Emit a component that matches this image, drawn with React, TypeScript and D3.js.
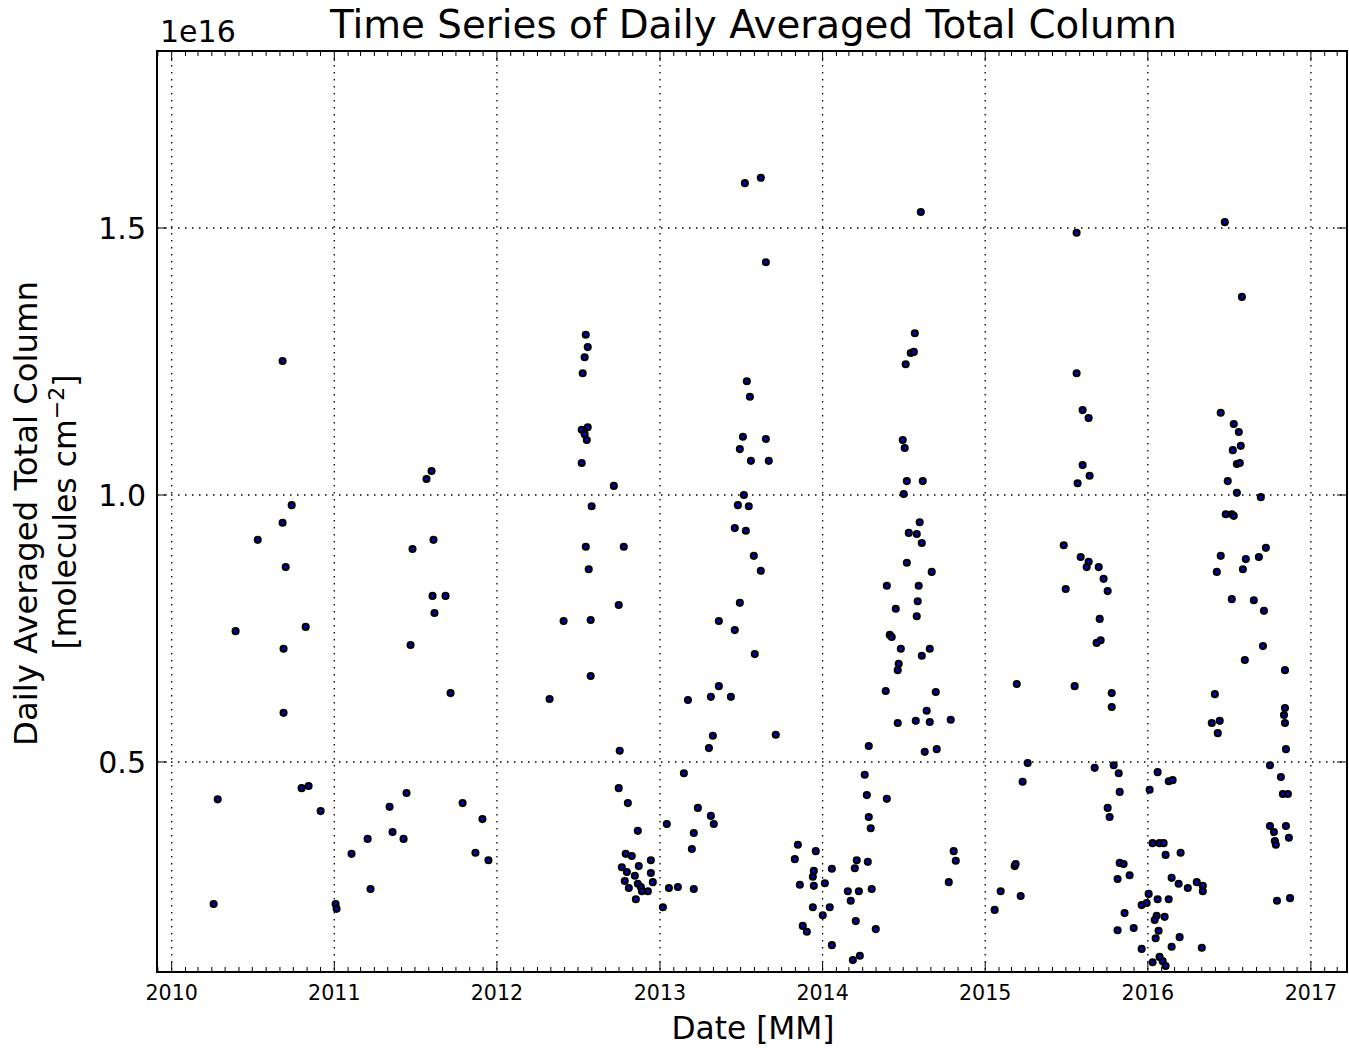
import React, { useEffect } from "react";
import * as d3 from "d3";

// ---- Data: [decimal year, daily averaged total column (x1e16 molecules cm^-2)] ----
const obs2010: [number, number][] = [
  [2010.258, 0.234], [2010.283, 0.430], [2010.393, 0.745], [2010.529, 0.916], [2010.682, 1.251],
  [2010.682, 0.948], [2010.701, 0.865], [2010.688, 0.712], [2010.688, 0.592], [2010.738, 0.981],
  [2010.799, 0.451], [2010.842, 0.455], [2010.824, 0.753], [2010.916, 0.408],
];
const obs2011: [number, number][] = [
  [2011.008, 0.234], [2011.014, 0.225], [2011.106, 0.328], [2011.205, 0.356], [2011.223, 0.262],
  [2011.340, 0.416], [2011.358, 0.369], [2011.426, 0.356], [2011.444, 0.442], [2011.469, 0.719],
  [2011.481, 0.899], [2011.567, 1.030], [2011.598, 1.045], [2011.610, 0.916], [2011.604, 0.811],
  [2011.616, 0.779], [2011.684, 0.811], [2011.715, 0.629], [2011.789, 0.423], [2011.868, 0.330],
  [2011.911, 0.393], [2011.948, 0.316],
];
const obs2012: [number, number][] = [
  [2012.323, 0.618], [2012.409, 0.764], [2012.520, 1.060], [2012.526, 1.228], [2012.538, 1.258],
  [2012.557, 1.277], [2012.545, 1.300], [2012.557, 1.127], [2012.520, 1.122], [2012.538, 1.114],
  [2012.551, 1.103], [2012.717, 1.017], [2012.581, 0.979], [2012.545, 0.903], [2012.778, 0.903],
  [2012.563, 0.861], [2012.747, 0.794], [2012.575, 0.766], [2012.575, 0.661], [2012.753, 0.521],
  [2012.747, 0.451], [2012.803, 0.423], [2012.864, 0.371], [2012.790, 0.328], [2012.827, 0.324],
  [2012.944, 0.316], [2012.766, 0.303], [2012.870, 0.305], [2012.797, 0.294], [2012.846, 0.287],
  [2012.944, 0.292], [2012.784, 0.277], [2012.864, 0.272], [2012.883, 0.266], [2012.889, 0.258],
  [2012.926, 0.258], [2012.956, 0.275], [2012.809, 0.264], [2012.852, 0.243],
];
const obs2013: [number, number][] = [
  [2013.018, 0.228], [2013.042, 0.384], [2013.055, 0.264], [2013.110, 0.266], [2013.208, 0.262],
  [2013.196, 0.337], [2013.208, 0.367], [2013.233, 0.414], [2013.313, 0.399], [2013.331, 0.384],
  [2013.172, 0.616], [2013.147, 0.479], [2013.301, 0.526], [2013.313, 0.622], [2013.325, 0.549],
  [2013.362, 0.642], [2013.362, 0.764], [2013.436, 0.622], [2013.460, 0.747], [2013.460, 0.938],
  [2013.479, 0.981], [2013.491, 0.798], [2013.491, 1.086], [2013.510, 1.109], [2013.522, 1.584],
  [2013.516, 1.000], [2013.528, 0.933], [2013.534, 1.213], [2013.546, 0.979], [2013.553, 1.184],
  [2013.559, 1.064], [2013.577, 0.886], [2013.583, 0.702], [2013.620, 0.858], [2013.620, 1.594],
  [2013.651, 1.436], [2013.651, 1.105], [2013.669, 1.064], [2013.712, 0.551],
  [2013.848, 0.345], [2013.829, 0.318], [2013.958, 0.333], [2013.946, 0.296], [2013.940, 0.285],
  [2013.860, 0.270], [2013.946, 0.268], [2013.940, 0.228], [2013.878, 0.193], [2013.903, 0.182],
];
const obs2014: [number, number][] = [
  [2014.014, 0.273], [2014.057, 0.300], [2014.044, 0.228], [2014.001, 0.213], [2014.057, 0.157],
  [2014.186, 0.129], [2014.210, 0.316], [2014.198, 0.301], [2014.155, 0.258], [2014.173, 0.240],
  [2014.204, 0.202], [2014.223, 0.258], [2014.229, 0.137],
  [2014.259, 0.476], [2014.272, 0.438], [2014.284, 0.530], [2014.284, 0.397], [2014.296, 0.376],
  [2014.278, 0.313], [2014.302, 0.262], [2014.327, 0.187], [2014.388, 0.633], [2014.395, 0.830],
  [2014.395, 0.431], [2014.413, 0.738], [2014.425, 0.734], [2014.450, 0.787], [2014.462, 0.573],
  [2014.462, 0.672], [2014.468, 0.684], [2014.481, 0.712], [2014.493, 1.103], [2014.499, 1.002],
  [2014.505, 1.088], [2014.518, 0.873], [2014.511, 1.245], [2014.518, 1.026], [2014.530, 0.929],
  [2014.542, 1.266], [2014.561, 1.268], [2014.567, 1.303], [2014.573, 0.577], [2014.579, 0.773],
  [2014.585, 0.801], [2014.579, 0.927], [2014.591, 0.830], [2014.597, 0.949], [2014.604, 1.530],
  [2014.610, 0.910], [2014.616, 1.026], [2014.610, 0.699], [2014.628, 0.519], [2014.640, 0.596],
  [2014.659, 0.575], [2014.659, 0.712], [2014.671, 0.856], [2014.696, 0.631], [2014.702, 0.524],
  [2014.788, 0.579], [2014.776, 0.275], [2014.806, 0.333], [2014.819, 0.315],
];
const obs2015: [number, number][] = [
  [2015.058, 0.223], [2015.095, 0.258], [2015.181, 0.305], [2015.187, 0.309], [2015.194, 0.646],
  [2015.218, 0.249], [2015.230, 0.463], [2015.261, 0.498], [2015.483, 0.906], [2015.495, 0.824],
  [2015.550, 0.642], [2015.562, 1.491], [2015.562, 1.228], [2015.568, 1.022], [2015.587, 0.884],
  [2015.599, 1.159], [2015.599, 1.056], [2015.624, 0.865], [2015.636, 0.875], [2015.636, 1.144],
  [2015.642, 1.036], [2015.673, 0.489], [2015.685, 0.723], [2015.698, 0.865], [2015.704, 0.768],
  [2015.710, 0.728], [2015.728, 0.843], [2015.753, 0.820], [2015.753, 0.414], [2015.765, 0.397],
  [2015.778, 0.629], [2015.778, 0.603], [2015.790, 0.494], [2015.814, 0.281], [2015.821, 0.479],
  [2015.827, 0.444], [2015.827, 0.311], [2015.851, 0.309], [2015.814, 0.185], [2015.857, 0.217],
  [2015.888, 0.288], [2015.913, 0.189], [2015.962, 0.232], [2015.993, 0.236], [2015.962, 0.150],
];
const obs2016: [number, number][] = [
  [2016.005, 0.253], [2016.060, 0.243], [2016.128, 0.243], [2016.146, 0.283], [2016.189, 0.272],
  [2016.245, 0.264], [2016.300, 0.275], [2016.337, 0.268], [2016.337, 0.258], [2016.054, 0.212],
  [2016.042, 0.204], [2016.103, 0.210], [2016.066, 0.184], [2016.048, 0.170], [2016.195, 0.172],
  [2016.146, 0.154], [2016.331, 0.152], [2016.072, 0.135], [2016.029, 0.125], [2016.091, 0.127],
  [2016.109, 0.118],
  [2016.011, 0.448], [2016.060, 0.481], [2016.029, 0.348], [2016.072, 0.348], [2016.097, 0.348],
  [2016.128, 0.464], [2016.152, 0.466], [2016.109, 0.326], [2016.201, 0.330],
  [2016.392, 0.573], [2016.411, 0.627], [2016.423, 0.856], [2016.429, 0.554], [2016.441, 0.577],
  [2016.447, 1.154], [2016.447, 0.886], [2016.478, 0.964], [2016.490, 1.026], [2016.472, 1.511],
  [2016.515, 0.964], [2016.515, 0.805], [2016.521, 1.084], [2016.527, 1.133], [2016.527, 0.961],
  [2016.546, 1.004], [2016.546, 1.058], [2016.558, 1.118], [2016.564, 1.060], [2016.570, 1.092],
  [2016.577, 1.371], [2016.583, 0.861], [2016.595, 0.691], [2016.601, 0.880], [2016.650, 0.803],
  [2016.681, 0.884], [2016.693, 0.996], [2016.706, 0.717], [2016.712, 0.783], [2016.724, 0.901],
  [2016.749, 0.494], [2016.749, 0.380], [2016.773, 0.369], [2016.779, 0.352], [2016.785, 0.345],
  [2016.792, 0.240], [2016.816, 0.472], [2016.828, 0.440], [2016.835, 0.588], [2016.841, 0.573],
  [2016.841, 0.672], [2016.841, 0.601], [2016.847, 0.524], [2016.847, 0.380], [2016.859, 0.440],
  [2016.865, 0.358], [2016.872, 0.245],
];

const xDomainYears = [2009.9097, 2017.222];
const yDomain = [0.1067, 1.8315];
const yTickValues = [0.5, 1.0, 1.5];
const yTickLabels = ["0.5", "1.0", "1.5"];
const xTickYears = [2010, 2011, 2012, 2013, 2014, 2015, 2016, 2017];

const TITLE = "Time Series of Daily Averaged Total Column";
const X_LABEL = "Date [MM]";
const Y_LABEL_1 = "Daily Averaged Total Column";
const OFFSET_TEXT = "1e16";

function yearToDate(y: number): Date {
  const yr = Math.floor(y);
  const start = new Date(yr, 0, 1).getTime();
  const end = new Date(yr + 1, 0, 1).getTime();
  return new Date(start + (y - yr) * (end - start));
}

const FONT = "DejaVu Sans, Verdana, sans-serif";

export default function App() {
  useEffect(() => {
    document.body.style.margin = "0";
  }, []);

  const W = 1349;
  const H = 1048;
  const left = 157;
  const right = 1347;
  const top = 51;
  const bottom = 972;

  const x = d3
    .scaleTime()
    .domain([yearToDate(xDomainYears[0]), yearToDate(xDomainYears[1])])
    .range([left, right]);
  const y = d3.scaleLinear().domain(yDomain).range([bottom, top]);

  const allObs = [...obs2010, ...obs2011, ...obs2012, ...obs2013, ...obs2014, ...obs2015, ...obs2016];
  const majorX = xTickYears.map((yr) => new Date(yr, 0, 1));
  const minorX = d3
    .timeMonth.range(x.domain()[0], x.domain()[1])
    .filter((d) => d.getMonth() !== 0);

  const gridStyle = { stroke: "#000", strokeWidth: 1.3, strokeDasharray: "1.5 5.5" };

  return (
    <div style={{ position: "absolute", left: 0, top: 0 }}>
      <svg width={W} height={H} style={{ display: "block", background: "#fff" }} fontFamily={FONT}>
        <rect x={0} y={0} width={W} height={H} fill="#fff" />
        {/* grid */}
        {majorX.map((d, i) => (
          <line key={"gx" + i} x1={x(d)} x2={x(d)} y1={top} y2={bottom} {...gridStyle} />
        ))}
        {yTickValues.map((v, i) => (
          <line key={"gy" + i} x1={left} x2={right} y1={y(v)} y2={y(v)} {...gridStyle} />
        ))}
        {/* points */}
        {allObs.map((p, i) => (
          <circle
            key={"p" + i}
            cx={x(yearToDate(p[0]))}
            cy={y(p[1])}
            r={2.8}
            fill="#0000ff"
            stroke="#000"
            strokeWidth={2.5}
          />
        ))}
        {/* ticks */}
        {majorX.map((d, i) => (
          <g key={"tx" + i} stroke="#000" strokeWidth={1}>
            <line x1={x(d)} x2={x(d)} y1={bottom} y2={bottom - 10} />
            <line x1={x(d)} x2={x(d)} y1={top} y2={top + 10} />
          </g>
        ))}
        {minorX.map((d, i) => (
          <g key={"mx" + i} stroke="#000" strokeWidth={1}>
            <line x1={x(d)} x2={x(d)} y1={bottom} y2={bottom - 5} />
            <line x1={x(d)} x2={x(d)} y1={top} y2={top + 5} />
          </g>
        ))}
        {yTickValues.map((v, i) => (
          <g key={"ty" + i} stroke="#000" strokeWidth={1}>
            <line x1={left} x2={left + 10} y1={y(v)} y2={y(v)} />
            <line x1={right} x2={right - 10} y1={y(v)} y2={y(v)} />
          </g>
        ))}
        {/* frame */}
        <rect x={left} y={top} width={right - left} height={bottom - top} fill="none" stroke="#000" strokeWidth={2} />
        {/* tick labels */}
        {majorX.map((d, i) => (
          <text key={"lx" + i} x={x(d)} y={1000} fontSize={20.6} textAnchor="middle" fill="#000">
            {xTickYears[i]}
          </text>
        ))}
        {yTickValues.map((v, i) => (
          <text key={"ly" + i} x={146} y={y(v)} dy="0.36em" fontSize={30} textAnchor="end" fill="#000">
            {yTickLabels[i]}
          </text>
        ))}
        <text x={160} y={42} fontSize={30} fill="#000">
          {OFFSET_TEXT}
        </text>
        {/* title */}
        <text x={753.5} y={38} fontSize={38.8} textAnchor="middle" fill="#000">
          {TITLE}
        </text>
        {/* x label */}
        <text x={753} y={1039} fontSize={31.3} textAnchor="middle" fill="#000">
          {X_LABEL}
        </text>
        {/* y label */}
        <text transform={`translate(37, 513.5) rotate(-90)`} fontSize={32.3} textAnchor="middle" fill="#000">
          {Y_LABEL_1}
        </text>
        <text transform={`translate(75.5, 512) rotate(-90)`} fontSize={31.5} textAnchor="middle" fill="#000">
          <tspan>[molecules cm</tspan>
          <tspan dy={-12} fontSize={22}>
            −2
          </tspan>
          <tspan dy={12}>]</tspan>
        </text>
      </svg>
    </div>
  );
}
